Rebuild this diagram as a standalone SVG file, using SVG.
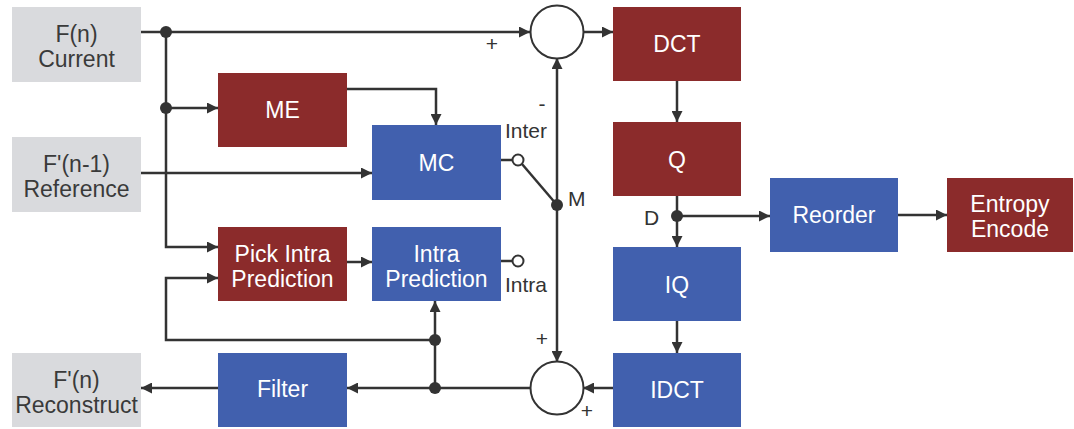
<svg xmlns="http://www.w3.org/2000/svg" width="1074" height="429" viewBox="0 0 1074 429">
<style>
.g{fill:#d9dadd}
.r{fill:#8b2b2b}
.b{fill:#4160ae}
.tw{font-family:"Liberation Sans",Arial,sans-serif;font-size:23px;fill:#ffffff;text-anchor:middle}
.tk{font-family:"Liberation Sans",Arial,sans-serif;font-size:23px;fill:#3a3a3a;text-anchor:middle}
.lb{font-family:"Liberation Sans",Arial,sans-serif;font-size:21px;fill:#333333}
.ln{fill:none;stroke:#333333;stroke-width:2.5}
.dot{fill:#333333}
.oc{fill:#ffffff;stroke:#333333;stroke-width:2}
</style>
<defs>
<marker id="ah" viewBox="0 0 10 10" refX="10" refY="5" markerWidth="4.4" markerHeight="4.4" orient="auto" markerUnits="strokeWidth">
<path d="M0,0 L10,5 L0,10 z" fill="#333333"/>
</marker>
</defs>
<rect width="1074" height="429" fill="#ffffff"/>

<g id="connectors">
<path class="ln" d="M141,32 H530" marker-end="url(#ah)"/>
<path class="ln" d="M583,32 H613" marker-end="url(#ah)"/>
<path class="ln" d="M166,32 V247 H218" marker-end="url(#ah)"/>
<path class="ln" d="M166,108 H218" marker-end="url(#ah)"/>
<path class="ln" d="M347,89 H436 V125" marker-end="url(#ah)"/>
<path class="ln" d="M141,173 H372" marker-end="url(#ah)"/>
<path class="ln" d="M501,160 H513"/>
<path class="ln" d="M522,164 L557,205"/>
<path class="ln" d="M501,261 H513"/>
<path class="ln" d="M557,205 V58" marker-end="url(#ah)"/>
<path class="ln" d="M557,205 V362" marker-end="url(#ah)"/>
<path class="ln" d="M677,81 V122" marker-end="url(#ah)"/>
<path class="ln" d="M677,196 V247" marker-end="url(#ah)"/>
<path class="ln" d="M677,216 H770" marker-end="url(#ah)"/>
<path class="ln" d="M898,215 H947" marker-end="url(#ah)"/>
<path class="ln" d="M677,321 V353" marker-end="url(#ah)"/>
<path class="ln" d="M613,388 H583" marker-end="url(#ah)"/>
<path class="ln" d="M530,388 H347" marker-end="url(#ah)"/>
<path class="ln" d="M218,388 H141" marker-end="url(#ah)"/>
<path class="ln" d="M435,388 V301" marker-end="url(#ah)"/>
<path class="ln" d="M435,340 H166 V278 H218" marker-end="url(#ah)"/>
<path class="ln" d="M347,262 H372" marker-end="url(#ah)"/>
<circle class="dot" cx="166" cy="32" r="6"/>
<circle class="dot" cx="166" cy="108" r="6"/>
<circle class="dot" cx="557" cy="205" r="6"/>
<circle class="dot" cx="677" cy="216" r="6"/>
<circle class="dot" cx="435" cy="340" r="6"/>
<circle class="dot" cx="435" cy="388" r="6"/>
<circle class="oc" cx="518" cy="160" r="5.5"/>
<circle class="oc" cx="518" cy="261" r="5.5"/>
<text class="lb" x="492" y="51" text-anchor="middle">+</text>
<text class="lb" x="542" y="111" text-anchor="middle">-</text>
<text class="lb" x="505" y="138">Inter</text>
<text class="lb" x="568" y="206">M</text>
<text class="lb" x="505" y="292">Intra</text>
<text class="lb" x="644" y="225">D</text>
<text class="lb" x="542" y="346" text-anchor="middle">+</text>
<text class="lb" x="587" y="418" text-anchor="middle">+</text>
</g>

<g id="sum1"><circle class="oc" cx="557" cy="32" r="26.5" stroke-width="2"/></g>
<g id="sum2"><circle class="oc" cx="557" cy="388" r="26.5" stroke-width="2"/></g>

<g id="fn-current"><rect class="g" x="12" y="7" width="129" height="75"/>
<text class="tk" x="76.5" y="42">F(n)</text><text class="tk" x="76.5" y="67">Current</text></g>
<g id="fn1-reference"><rect class="g" x="12" y="137" width="129" height="75"/>
<text class="tk" x="76.5" y="172">F'(n-1)</text><text class="tk" x="76.5" y="197">Reference</text></g>
<g id="fn-reconstruct"><rect class="g" x="12" y="353" width="129" height="74"/>
<text class="tk" x="76.5" y="388">F'(n)</text><text class="tk" x="76.5" y="413">Reconstruct</text></g>

<g id="me"><rect class="r" x="218" y="73" width="129" height="74"/>
<text class="tw" x="282.5" y="118">ME</text></g>
<g id="mc"><rect class="b" x="372" y="125" width="129" height="75"/>
<text class="tw" x="436.5" y="171">MC</text></g>
<g id="pick-intra"><rect class="r" x="218" y="227" width="129" height="74"/>
<text class="tw" x="282.5" y="262">Pick Intra</text><text class="tw" x="282.5" y="287">Prediction</text></g>
<g id="intra-pred"><rect class="b" x="372" y="227" width="129" height="74"/>
<text class="tw" x="436.5" y="262">Intra</text><text class="tw" x="436.5" y="287">Prediction</text></g>
<g id="filter"><rect class="b" x="218" y="353" width="129" height="74"/>
<text class="tw" x="282.5" y="397">Filter</text></g>

<g id="dct"><rect class="r" x="613" y="7" width="128" height="74"/>
<text class="tw" x="677" y="52">DCT</text></g>
<g id="q"><rect class="r" x="613" y="122" width="128" height="74"/>
<text class="tw" x="677" y="168">Q</text></g>
<g id="iq"><rect class="b" x="613" y="247" width="128" height="74"/>
<text class="tw" x="677" y="293">IQ</text></g>
<g id="idct"><rect class="b" x="613" y="353" width="128" height="74"/>
<text class="tw" x="677" y="398">IDCT</text></g>
<g id="reorder"><rect class="b" x="770" y="178" width="128" height="74"/>
<text class="tw" x="834" y="223">Reorder</text></g>
<g id="entropy"><rect class="r" x="947" y="178" width="126" height="74"/>
<text class="tw" x="1010" y="212">Entropy</text><text class="tw" x="1010" y="237">Encode</text></g>
</svg>
